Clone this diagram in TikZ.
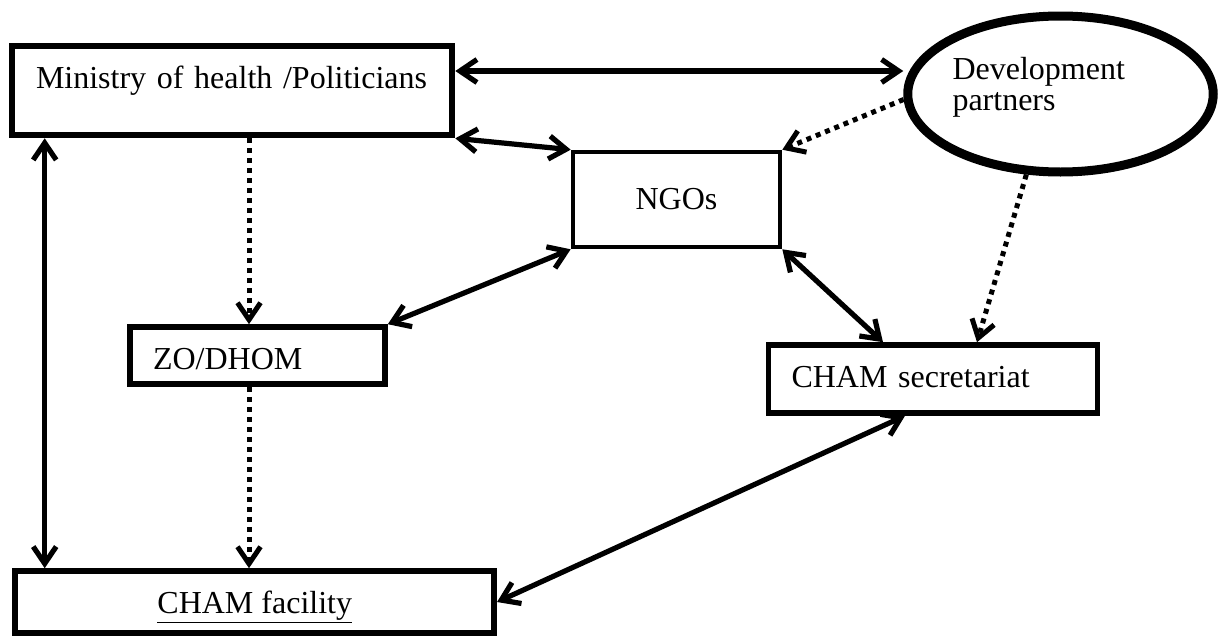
\documentclass[tikz,border=0pt]{standalone}
\usepackage{fontspec}
\setmainfont{Liberation Serif}
\usetikzlibrary{arrows.meta,shapes.geometric}

\begin{document}
\begin{tikzpicture}[x=0.5pt, y=-0.5pt,
    box/.style={draw, rectangle, inner sep=0pt, font=\fontsize{16}{15.5}\selectfont},
    oval/.style={draw, ellipse, inner sep=0pt, font=\fontsize{16}{15.5}\selectfont},
    barb/.tip={Straight Barb[length=8.5pt,width=11.5pt]},
    both/.style={barb-barb, line width=2.6pt},
    dots/.style={-barb, line width=2.5pt, dash pattern=on 2.5pt off 2.5pt}]

    % --- Frame ---
    \useasboundingbox (0,0) rectangle (1220,637);

    % --- Boxes ---
    \node[box, line width=3.3pt, text width=196pt, inner xsep=12pt, align=left,
          text height=21pt, text depth=23.5pt] (min) at (232,90.5)
          {Ministry of health /Politicians};
    \node[oval, line width=4.5pt, minimum width=151.5pt, minimum height=78pt,
          text width=108pt, align=left, text height=12pt, text depth=27pt] (dev) at (1060.5,94)
          {Development\\partners};
    \node[box, line width=2.3pt, minimum width=103.5pt, minimum height=47.5pt] (ngo) at (676.5,199.5) {NGOs};
    \node[box, line width=2.8pt, text width=104.5pt, inner xsep=11.5pt, align=left,
          text height=21pt, text depth=7.5pt] (zo) at (257.5,355.5) {ZO/DHOM};
    \node[box, line width=2.8pt, text width=141.5pt, inner xsep=11.5pt, align=left,
          text height=21pt, text depth=13pt] (sec) at (933,379) {CHAM secretariat};
    \node[box, line width=2.8pt, minimum width=239.5pt,
          text height=21pt, text depth=10pt] (fac) at (254.75,602) {\underline{CHAM facility}};

    % --- Solid links ---
    \draw[both] ([yshift=9.75pt]min.east) -- ([yshift=9.75pt]min.east -| dev.west);
    \draw[both] (min.south east) -- (ngo.north west);
    \draw[both] ([xshift=18pt]min.south west) -- ([xshift=18pt]min.south west |- fac.north);
    \draw[both] (ngo.south west) -- (zo.north east);
    \draw[both] (ngo.south east) -- ([xshift=-25pt]sec.north);
    \draw[both] ([xshift=-14pt]sec.south) -- (fac.east);

    % --- Dotted links ---
    \coordinate (colx) at (249,0);
    \draw[dots] (min.south -| colx) -- (zo.north -| colx);
    \draw[dots] (zo.south -| colx) -- (fac.north -| colx);
    \draw[dots] (dev.182) -- (ngo.north east);
    \draw[dots] (dev.247) -- ([xshift=22pt]sec.north);

\end{tikzpicture}
\end{document}
